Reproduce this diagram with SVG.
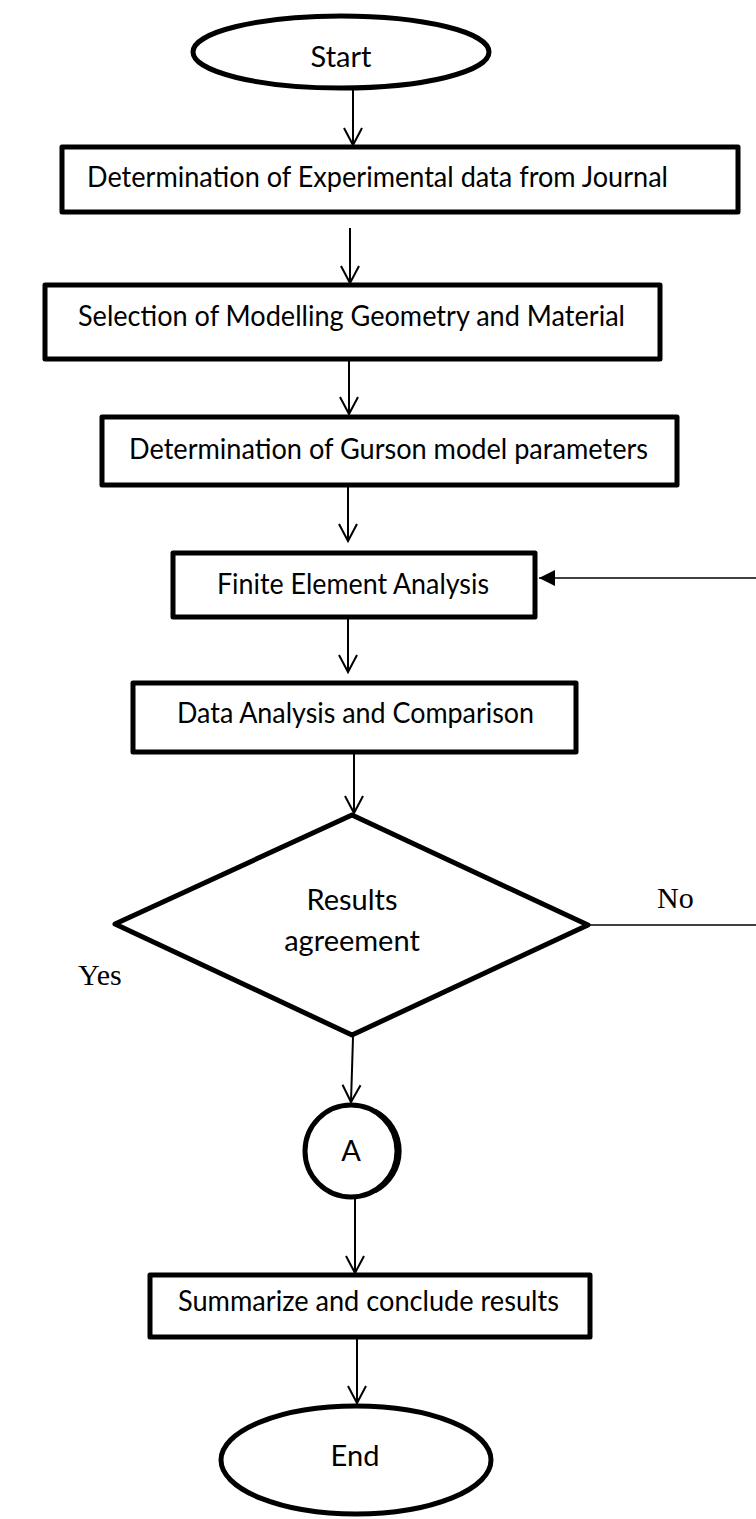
<svg xmlns="http://www.w3.org/2000/svg" width="756" height="1519" viewBox="0 0 756 1519">
  <style>
    .shape { fill: #fff; stroke: #000; stroke-width: 5; stroke-linejoin: round; }
    .lbl { font-family: Lato, "Liberation Sans", sans-serif; font-size: 29px; fill: #000; }
    .mid { text-anchor: middle; }
    .serif { font-family: "Liberation Serif", serif; font-size: 30px; fill: #000; }
    .wire { fill: none; stroke: #000; stroke-width: 2; }
    .thin { fill: none; stroke: #000; stroke-width: 1.6; }
  </style>
  <defs>
    <marker id="open" viewBox="-20 -12 24 24" refX="0" refY="0" markerWidth="24" markerHeight="24" markerUnits="userSpaceOnUse" orient="auto">
      <path d="M-17,-9 L0,0 L-17,9" fill="none" stroke="#000" stroke-width="2"/>
    </marker>
    <marker id="solid" viewBox="-20 -12 24 24" refX="0" refY="0" markerWidth="24" markerHeight="24" markerUnits="userSpaceOnUse" orient="auto">
      <path d="M-16,-8 L0,0 L-16,8 Z" fill="#000"/>
    </marker>
  </defs>

  <!-- connectors -->
  <g id="connectors">
    <line class="wire" x1="353" y1="89" x2="353" y2="145" marker-end="url(#open)"/>
    <line class="wire" x1="350" y1="228" x2="350" y2="283" marker-end="url(#open)"/>
    <line class="wire" x1="349" y1="360" x2="349" y2="414" marker-end="url(#open)"/>
    <line class="wire" x1="348" y1="487" x2="348" y2="541" marker-end="url(#open)"/>
    <line class="wire" x1="348" y1="619" x2="348" y2="672" marker-end="url(#open)"/>
    <line class="wire" x1="354" y1="754" x2="354" y2="813" marker-end="url(#open)"/>
    <line class="wire" x1="353" y1="1037" x2="351" y2="1102" marker-end="url(#open)"/>
    <line class="wire" x1="355" y1="1199" x2="355" y2="1273" marker-end="url(#open)"/>
    <line class="wire" x1="357" y1="1339" x2="357" y2="1403" marker-end="url(#open)"/>
    <!-- "No" branch leaving the decision and the return into the analysis step -->
    <line class="thin" x1="590" y1="925" x2="756" y2="925"/>
    <line class="thin" x1="756" y1="578" x2="539" y2="578" marker-end="url(#solid)"/>
    <text class="serif" x="657" y="908">No</text>
    <text class="serif" x="78" y="985">Yes</text>
  </g>

  <g id="start">
    <ellipse class="shape" cx="341" cy="52" rx="148" ry="36"/>
    <text class="lbl mid" x="341" y="67">Start</text>
  </g>

  <g id="experimental-data">
    <rect class="shape" x="62" y="147" width="676" height="65"/>
    <text class="lbl" x="87" y="187" textLength="581" lengthAdjust="spacingAndGlyphs">Determination of Experimental data from Journal</text>
  </g>

  <g id="geometry-material">
    <rect class="shape" x="45" y="285" width="615" height="74"/>
    <text class="lbl" x="78" y="326" textLength="547" lengthAdjust="spacingAndGlyphs">Selection of Modelling Geometry and Material</text>
  </g>

  <g id="gurson-parameters">
    <rect class="shape" x="102" y="417" width="575" height="68"/>
    <text class="lbl" x="129" y="459" textLength="519" lengthAdjust="spacingAndGlyphs">Determination of Gurson model parameters</text>
  </g>

  <g id="fea">
    <rect class="shape" x="173" y="553" width="362" height="64"/>
    <text class="lbl" x="217" y="594" textLength="272" lengthAdjust="spacingAndGlyphs">Finite Element Analysis</text>
  </g>

  <g id="data-analysis">
    <rect class="shape" x="133" y="683" width="443" height="69"/>
    <text class="lbl" x="177" y="723" textLength="357" lengthAdjust="spacingAndGlyphs">Data Analysis and Comparison</text>
  </g>

  <g id="decision">
    <polygon class="shape" points="352,815 588,925 352,1035 115,924"/>
    <text class="lbl mid" x="352" y="910">Results</text>
    <text class="lbl mid" x="352" y="951">agreement</text>
  </g>

  <g id="connector-a">
    <circle class="shape" cx="351" cy="1151" r="46"/>
    <!-- heavier right-hand rim -->
    <path d="M371,1110 A46,46 0 0 1 371,1192" fill="none" stroke="#000" stroke-width="3" transform="translate(4,0)"/>
    <text class="lbl mid" x="351" y="1161">A</text>
  </g>

  <g id="summarize">
    <rect class="shape" x="150" y="1275" width="440" height="62"/>
    <text class="lbl" x="178" y="1311" textLength="381" lengthAdjust="spacingAndGlyphs">Summarize and conclude results</text>
  </g>

  <g id="end">
    <ellipse class="shape" cx="356" cy="1460" rx="135" ry="54"/>
    <text class="lbl mid" x="355" y="1466">End</text>
  </g>
</svg>
